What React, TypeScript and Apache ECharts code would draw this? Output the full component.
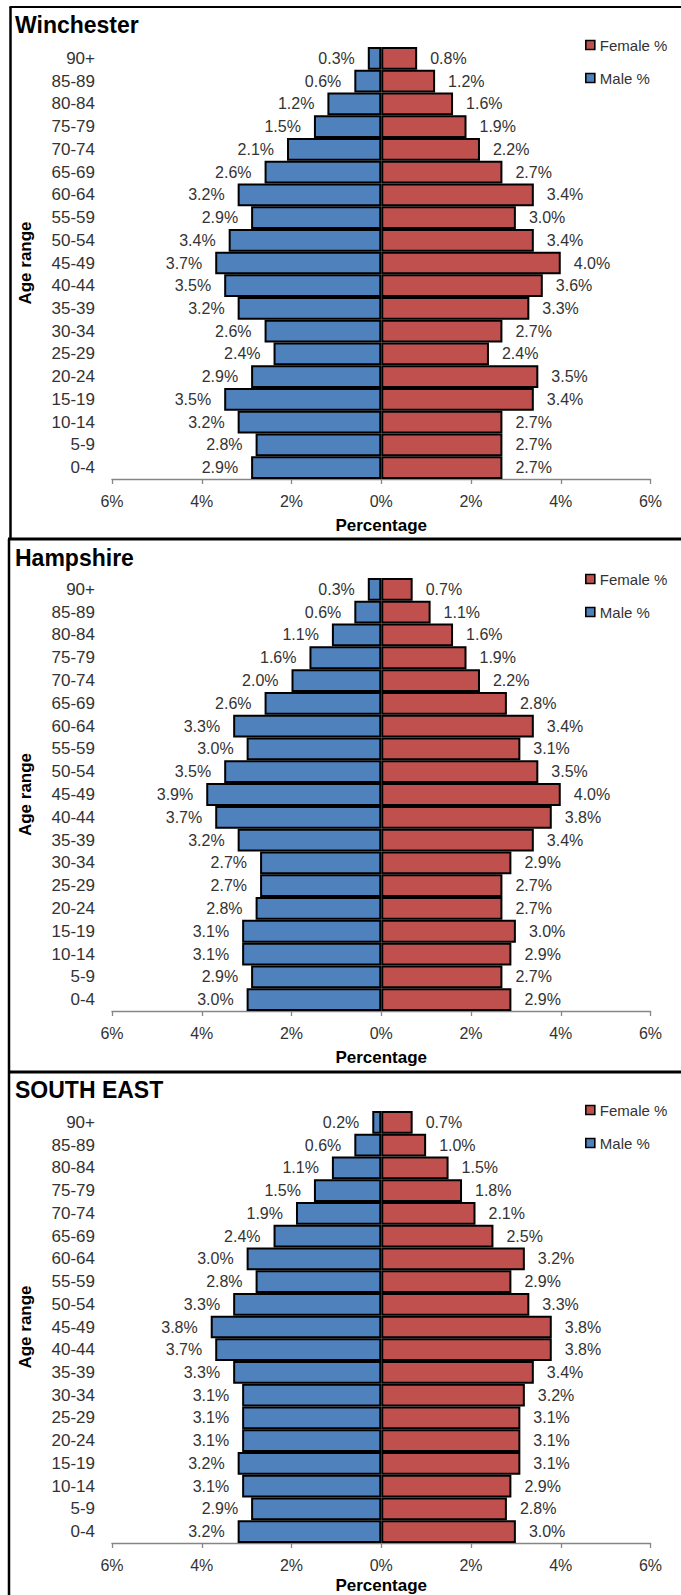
import React, { useEffect, useRef } from 'react';
import * as echarts from 'echarts';

// Age groups, listed top to bottom as in the chart
const ageGroups = ['90+', '85-89', '80-84', '75-79', '70-74', '65-69', '60-64', '55-59', '50-54', '45-49', '40-44', '35-39', '30-34', '25-29', '20-24', '15-19', '10-14', '5-9', '0-4'];

const winchesterMale = [0.3, 0.6, 1.2, 1.5, 2.1, 2.6, 3.2, 2.9, 3.4, 3.7, 3.5, 3.2, 2.6, 2.4, 2.9, 3.5, 3.2, 2.8, 2.9];
const winchesterFemale = [0.8, 1.2, 1.6, 1.9, 2.2, 2.7, 3.4, 3.0, 3.4, 4.0, 3.6, 3.3, 2.7, 2.4, 3.5, 3.4, 2.7, 2.7, 2.7];

const hampshireMale = [0.3, 0.6, 1.1, 1.6, 2.0, 2.6, 3.3, 3.0, 3.5, 3.9, 3.7, 3.2, 2.7, 2.7, 2.8, 3.1, 3.1, 2.9, 3.0];
const hampshireFemale = [0.7, 1.1, 1.6, 1.9, 2.2, 2.8, 3.4, 3.1, 3.5, 4.0, 3.8, 3.4, 2.9, 2.7, 2.7, 3.0, 2.9, 2.7, 2.9];

const southEastMale = [0.2, 0.6, 1.1, 1.5, 1.9, 2.4, 3.0, 2.8, 3.3, 3.8, 3.7, 3.3, 3.1, 3.1, 3.1, 3.2, 3.1, 2.9, 3.2];
const southEastFemale = [0.7, 1.0, 1.5, 1.8, 2.1, 2.5, 3.2, 2.9, 3.3, 3.8, 3.8, 3.4, 3.2, 3.1, 3.1, 3.1, 2.9, 2.8, 3.0];

const panelTitles = ['Winchester', 'Hampshire', 'SOUTH EAST'];
const maleSeries = [winchesterMale, hampshireMale, southEastMale];
const femaleSeries = [winchesterFemale, hampshireFemale, southEastFemale];

const xMin = -6;
const xMax = 6;
const xInterval = 2;

const FONT = "'Liberation Sans', Arial, sans-serif";
const MALE_COLOR = '#4F81BD';
const FEMALE_COLOR = '#C0504D';
const TEXT = '#333333';

// layout (pixels)
const panelTops = [7, 539, 1072];
const panelBottoms = [539, 1072, 1595];
const borderXs = [10.5, 9, 9];
const gridTops = [47, 578, 1111];
const gridBottoms = [479, 1011, 1543];
const titleYs = [25, 558, 1090];
const legendYs = [40, 574, 1105];
const xTitleGaps = [46, 46, 42];
const legendGap = 33;
const gridLeft = 112;
const gridWidth = 538.5;

export default function App() {
  const ref = useRef<HTMLDivElement>(null);

  useEffect(() => {
    if (!ref.current) return;
    const chart = echarts.init(ref.current, null, { renderer: 'svg' });

    const grids: any[] = [];
    const xAxes: any[] = [];
    const yAxes: any[] = [];
    const series: any[] = [];
    const legends: any[] = [];
    const graphics: any[] = [];

    panelTitles.forEach((title, i) => {
      grids.push({
        left: gridLeft,
        width: gridWidth,
        top: gridTops[i],
        height: gridBottoms[i] - gridTops[i],
        containLabel: false,
      });
      xAxes.push({
        type: 'value',
        gridIndex: i,
        min: xMin,
        max: xMax,
        interval: xInterval,
        axisLine: { show: true, onZero: false, lineStyle: { color: '#868686', width: 1.3 } },
        axisTick: { show: true, length: 5, lineStyle: { color: '#868686', width: 1.3 } },
        splitLine: { show: false },
        axisLabel: {
          fontSize: 16,
          fontFamily: FONT,
          color: TEXT,
          margin: 14,
          formatter: (v: number) => Math.abs(v) + '%',
        },
      });
      yAxes.push({
        type: 'category',
        gridIndex: i,
        data: ageGroups,
        inverse: true,
        axisLine: { show: false },
        axisTick: { show: false },
        axisLabel: {
          fontSize: 17,
          fontFamily: FONT,
          color: TEXT,
          margin: 17,
        },
      });
      const labelFmt = (p: any) => Math.abs(p.value).toFixed(1) + '%';
      series.push({
        name: 'Male %',
        type: 'bar',
        xAxisIndex: i,
        yAxisIndex: i,
        data: maleSeries[i].map((v) => -v),
        barWidth: '100%',
        barGap: '-100%',
        itemStyle: { color: MALE_COLOR, borderColor: '#000', borderWidth: 2 },
        label: {
          show: true,
          position: 'left',
          distance: 13,
          fontSize: 16,
          fontFamily: FONT,
          color: TEXT,
          formatter: labelFmt,
        },
      });
      series.push({
        name: 'Female %',
        type: 'bar',
        xAxisIndex: i,
        yAxisIndex: i,
        data: femaleSeries[i],
        barWidth: '100%',
        barGap: '-100%',
        itemStyle: { color: FEMALE_COLOR, borderColor: '#000', borderWidth: 2 },
        label: {
          show: true,
          position: 'right',
          distance: 13,
          fontSize: 16,
          fontFamily: FONT,
          color: TEXT,
          formatter: labelFmt,
        },
      });
      legends.push({
        data: ['Female %', 'Male %'],
        orient: 'vertical',
        left: 580,
        top: legendYs[i] - 8,
        itemWidth: 9,
        itemHeight: 9,
        itemGap: legendGap - 16,
        icon: 'rect',
        selectedMode: false,
        itemStyle: { borderColor: '#000', borderWidth: 1.6 },
        textStyle: { fontSize: 15, fontFamily: FONT, color: TEXT, lineHeight: 16 },
      });

      // panel title
      graphics.push({
        type: 'text',
        x: 15,
        y: titleYs[i],
        style: {
          text: title,
          fill: '#000',
          font: `bold 23px ${FONT}`,
          textAlign: 'left',
          textVerticalAlign: 'middle',
        },
      });
      // y axis title
      graphics.push({
        type: 'text',
        x: 25,
        y: (gridTops[i] + gridBottoms[i]) / 2,
        rotation: Math.PI / 2,
        style: {
          text: 'Age range',
          fill: '#000',
          font: `bold 17px ${FONT}`,
          textAlign: 'center',
          textVerticalAlign: 'middle',
        },
      });
      // x axis title
      graphics.push({
        type: 'text',
        x: gridLeft + gridWidth / 2,
        y: gridBottoms[i] + xTitleGaps[i],
        style: {
          text: 'Percentage',
          fill: '#000',
          font: `bold 17px ${FONT}`,
          textAlign: 'center',
          textVerticalAlign: 'middle',
        },
      });
      // left border
      graphics.push({
        type: 'line',
        shape: { x1: borderXs[i], y1: panelTops[i], x2: borderXs[i], y2: panelBottoms[i] },
        style: { stroke: '#000', lineWidth: 2.5 },
        z: 10,
      });
      // top border / separator
      graphics.push({
        type: 'line',
        shape: { x1: borderXs[i] - 1, y1: panelTops[i], x2: 681, y2: panelTops[i] },
        style: { stroke: '#000', lineWidth: i === 0 ? 2.2 : 3 },
        z: 10,
      });
    });

    chart.setOption({
      animation: false,
      backgroundColor: '#fff',
      grid: grids,
      xAxis: xAxes,
      yAxis: yAxes,
      series,
      legend: legends,
      graphic: graphics,
    });

    return () => chart.dispose();
  }, []);

  return (
    <div
      ref={ref}
      style={{ position: 'absolute', left: 0, top: 0, width: 681, height: 1595 }}
    />
  );
}
